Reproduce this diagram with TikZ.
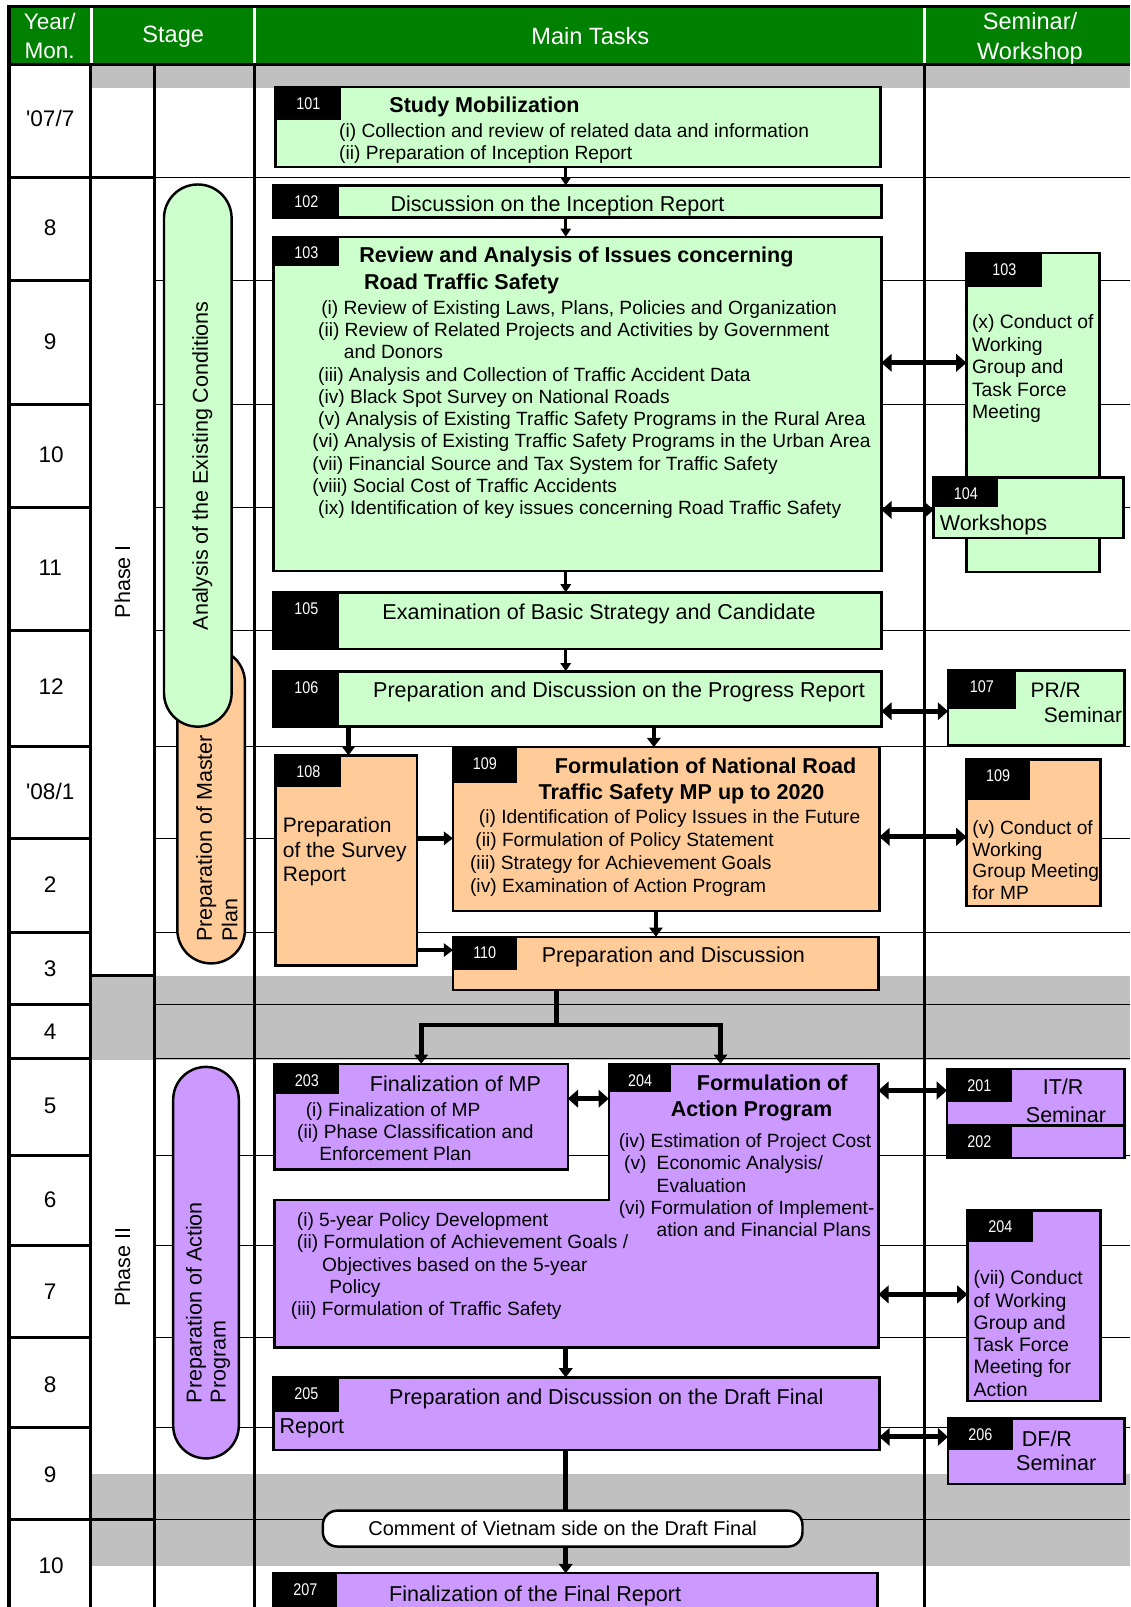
\documentclass[tikz,border=0pt]{standalone}
\usepackage{fontspec}
\setmainfont{Liberation Sans}
\newfontfamily\narrowfont[FakeStretch=0.85]{Liberation Sans}
\usetikzlibrary{arrows.meta}
\definecolor{hgreen}{HTML}{008000}
\definecolor{tgreen}{HTML}{CCFFCC}
\definecolor{torange}{HTML}{FFCC99}
\definecolor{tpurple}{HTML}{CC99FF}
\definecolor{bandgray}{HTML}{C0C0C0}
\newcommand\fsHead{\fontsize{23}{29}\selectfont}
\newcommand\fsYear{\fontsize{22}{28}\selectfont}
\newcommand\fsBig{\fontsize{21}{24}\selectfont}
\newcommand\fsTtl{\bfseries\fontsize{21}{24}\selectfont}
\newcommand\fsLab{\narrowfont\fontsize{16.5}{18}\selectfont}
\newcommand\tasklab[6]{%
  \node[labbox,minimum width=#4pt,minimum height=#5pt] (#1) at (#2,#3) {};
  \node[labnum] (#1n) at ([yshift=-16pt]#1.north) {#6};}
\begin{document}
\begin{tikzpicture}[x=1pt,y=-1pt,
  every node/.style={inner sep=0pt,outer sep=0pt},
  tbox/.style={draw,line width=2.4pt,anchor=north west},
  labbox/.style={fill=black,anchor=north west},
  labnum/.style={text=white,font=\fsLab},
  pill/.style={draw,line width=2.4pt,anchor=north west,rounded corners=#1},
  body/.style={anchor=north west,align=left},
  arrA/.style={line width=3pt,-{Triangle[length=8pt,width=10pt]}},
  arrB/.style={line width=4.5pt,-{Triangle[length=9pt,width=13pt]}},
  arrC/.style={line width=5pt,{Triangle[length=10pt,width=17pt]}-{Triangle[length=10pt,width=17pt]}}]
\path[use as bounding box] (0,0) rectangle (1103,1568);
\clip (0,0) rectangle (1103,1568);
\fill[white] (0,0) rectangle (1103,1568);
% gray bands
\fill[bandgray] (89,62) rectangle (1103,86);
\fill[bandgray] (89,952) rectangle (1103,1034);
\fill[bandgray] (89,1438) rectangle (1103,1528);
% header
\fill[hgreen] (9,8) rectangle (1103,61);
\foreach \x in {89,248,902} \draw[white,line width=3pt] (\x,8) -- (\x,61);
\draw[line width=2.5pt] (8,6.5) -- (1103,6.5);
\draw[line width=3pt] (9,62.5) -- (1103,62.5);
% grid lines
\foreach \y in {173,274,395,495,615,728,818,910,980,1033,1127,1215,1305,1393,1483} {
  \draw[line width=1pt] (151,\y) -- (1103,\y);
  \draw[line width=3pt] (9,\y) -- (88,\y);}
\foreach \y in {173,952,1483} \draw[line width=3pt] (88,\y) -- (151,\y);
\draw[line width=3.5pt] (9,5) -- (9,1568);
\draw[line width=3pt] (88,62) -- (88,1568);
\draw[line width=3pt] (151,62) -- (151,1568);
\draw[line width=3pt] (248,62) -- (248,1568);
\draw[line width=2.5pt] (902,62) -- (902,1568);
% header texts
\node[text=white,font=\fsYear,align=center,anchor=north] (hyear) at (48.5,13) {Year/\\Mon.};
\node[text=white,font=\fsHead,anchor=base] (hstage) at (169,41) {Stage};
\node[text=white,font=\fsHead,anchor=base] (htask) at (576,43) {Main Tasks};
\node[text=white,font=\fsHead,align=center,anchor=north] (hsem) at (1005,12.5) {Seminar/\\Workshop};
% year / month labels
\node[font=\fsYear,anchor=base] (yr1) at (49,123.9) {\textquotesingle07/7};
\node[font=\fsYear,anchor=base] (yr2) at (49,229.9) {8};
\node[font=\fsYear,anchor=base] (yr3) at (49,340.9) {9};
\node[font=\fsYear,anchor=base] (yr4) at (50,450.9) {10};
\node[font=\fsYear,anchor=base] (yr5) at (49,561.9) {11};
\node[font=\fsYear,anchor=base] (yr6) at (50,677.9) {12};
\node[font=\fsYear,anchor=base] (yr7) at (49,779.9) {\textquotesingle08/1};
\node[font=\fsYear,anchor=base] (yr8) at (49,870.9) {2};
\node[font=\fsYear,anchor=base] (yr9) at (49,952.9) {3};
\node[font=\fsYear,anchor=base] (yr10) at (49,1013.9) {4};
\node[font=\fsYear,anchor=base] (yr11) at (49,1086.9) {5};
\node[font=\fsYear,anchor=base] (yr12) at (49,1177.9) {6};
\node[font=\fsYear,anchor=base] (yr13) at (49,1267.9) {7};
\node[font=\fsYear,anchor=base] (yr14) at (49,1358.4) {8};
\node[font=\fsYear,anchor=base] (yr15) at (49,1446.4) {9};
\node[font=\fsYear,anchor=base] (yr16) at (50,1535.4) {10};
% phases
\node[rotate=90,font=\fsBig] (ph1) at (119.5,567.5) {Phase I};
\node[rotate=90,font=\fsBig] (ph2) at (119.5,1236.5) {Phase II};
% stage pills
\node[pill=32.9pt,fill=torange,minimum width=66pt,minimum height=307pt] (pillmp) at (173,633) {};
\node[pill=32.9pt,fill=tgreen,minimum width=66pt,minimum height=529pt] (pillex) at (160,180) {};
\node[pill=31.9pt,fill=tpurple,minimum width=64pt,minimum height=382pt] (pillap) at (169,1041) {};
\node[rotate=90,anchor=north west,font=\fsBig] (tex) at (187.5,615) {Analysis of the Existing Conditions};
\node[rotate=90,anchor=north west,align=left,font=\fontsize{21}{25}\selectfont] (tmp) at (191.5,919) {Preparation of Master\\Plan};
\node[rotate=90,anchor=north west,align=left,font=\fontsize{21}{23.5}\selectfont] (tap) at (181.5,1369) {Preparation of Action\\Program};
% 101
\node[tbox,fill=tgreen,minimum width=590pt,minimum height=78pt] (b101) at (269,85) {};
\tasklab{l101}{269}{85}{64}{32}{101}
\node[anchor=base west,font=\fsTtl] (t101) at (380,109.5) {Study Mobilization};
\node[body,font=\fontsize{18.7}{22}\selectfont] (x101) at (331,120.3) {(i) Collection and review of related data and information\\(ii) Preparation of Inception Report};
% 102
\node[tbox,fill=tgreen,minimum width=593pt,minimum height=31pt] (b102) at (267,181) {};
\tasklab{l102}{267}{181}{64}{31}{102}
\node[anchor=base,font=\fsBig] (t102) at (544,206.5) {Discussion on the Inception Report};
% 103
\node[tbox,fill=tgreen,minimum width=593pt,minimum height=326pt] (b103) at (267,231) {};
\tasklab{l103}{267}{231}{64}{29}{103}
\node[anchor=base west,font=\fsTtl] (t103a) at (350.6,256.5) {Review and Analysis of Issues concerning};
\node[anchor=base west,font=\fsTtl] (t103b) at (355.3,282.5) {Road Traffic Safety};
\node[body,font=\fontsize{18.7}{21.7}\selectfont] (x103) at (304.8,293.3) {\hspace*{8.7pt}(i) Review of Existing Laws, Plans, Policies and Organization\\
\hspace*{5.6pt}(ii) Review of Related Projects and Activities by Government\\
\hspace*{30.7pt}and Donors\\
\hspace*{5.6pt}(iii) Analysis and Collection of Traffic Accident Data\\
\hspace*{5.6pt}(iv) Black Spot Survey on National Roads\\
\hspace*{5.6pt}(v) Analysis of Existing Traffic Safety Programs in the Rural Area\\
(vi) Analysis of Existing Traffic Safety Programs in the Urban Area\\
(vii) Financial Source and Tax System for Traffic Safety\\
(viii) Social Cost of Traffic Accidents\\
\hspace*{5.6pt}(ix) Identification of key issues concerning Road Traffic Safety};
% 105
\node[tbox,fill=tgreen,minimum width=593pt,minimum height=55pt] (b105) at (267,578) {};
\tasklab{l105}{267}{578}{64}{55}{105}
\node[anchor=base,font=\fsBig] (t105) at (584.5,604.5) {Examination of Basic Strategy and Candidate};
% 106
\node[tbox,fill=tgreen,minimum width=593pt,minimum height=54pt] (b106) at (267,655) {};
\tasklab{l106}{267}{655}{64}{54}{106}
\node[anchor=base,font=\fsBig] (t106) at (604,680.5) {Preparation and Discussion on the Progress Report};
% 108
\node[tbox,fill=torange,minimum width=138pt,minimum height=205pt] (b108) at (269,737) {};
\tasklab{l108}{269}{737}{64}{31}{108}
\node[body,font=\fontsize{20.5}{24}\selectfont] (x108) at (276,797.7) {Preparation\\of the Survey\\Report};
% 109
\node[tbox,fill=torange,minimum width=416pt,minimum height=160pt] (b109) at (442,729) {};
\tasklab{l109}{442}{729}{62}{35}{109}
\node[anchor=base,font=\fsTtl] (t109a) at (688.5,755.2) {Formulation of National Road};
\node[anchor=base,font=\fsTtl] (t109b) at (665,780.2) {Traffic Safety MP up to 2020};
\node[body,font=\fontsize{18.7}{22.3}\selectfont] (x109) at (458.7,790.3) {\hspace*{8.6pt}(i) Identification of Policy Issues in the Future\\
\hspace*{5.2pt}(ii) Formulation of Policy Statement\\
(iii) Strategy for Achievement Goals\\
(iv) Examination of Action Program};
% 110
\node[tbox,fill=torange,minimum width=415pt,minimum height=52pt] (b110) at (442,914) {};
\tasklab{l110}{442}{914}{62}{32}{110}
\node[anchor=base,font=\fsBig] (t110) at (657,939.5) {Preparation and Discussion};
% 203
\node[tbox,fill=tpurple,minimum width=286pt,minimum height=103pt] (b203) at (268,1038) {};
\tasklab{l203}{268}{1038}{63}{29}{203}
\node[anchor=base west,font=\fsBig] (t203) at (361,1064.9) {Finalization of MP};
\node[body,font=\fontsize{18.7}{21.7}\selectfont] (x203) at (290,1075.8) {\hspace*{8.4pt}(i) Finalization of MP\\(ii) Phase Classification and\\\hspace*{21.5pt}Enforcement Plan};
% 204
\node[anchor=north west,minimum width=589pt,minimum height=277pt] (b204) at (268,1038) {};
\node[anchor=north west,minimum width=263pt,minimum height=133pt] (b204t) at (594,1038) {};
\filldraw[fill=tpurple,line width=2.4pt] (b204t.north west) -- (b204t.north east) -- (b204.south east) -- (b204.south west) -- (b204.west |- b204t.south) -- (b204t.south west) -- cycle;
\tasklab{l204}{594}{1038}{61}{27}{204}
\node[anchor=base west,font=\fsTtl] (t204a) at (680,1064.3) {Formulation of};
\node[anchor=base west,font=\fsTtl] (t204b) at (654.5,1089.5) {Action Program};
\node[body,font=\fontsize{18.7}{21.8}\selectfont] (x204r) at (603.8,1106) {(iv) Estimation of Project Cost\\
\hspace*{5.2pt}(v)\hspace{10pt}Economic Analysis/\\
\hspace*{37pt}Evaluation\\
(vi) Formulation of Implement-\\
\hspace*{37pt}ation and Financial Plans};
\node[body,font=\fontsize{18.7}{21.7}\selectfont] (x204l) at (283.9,1183.3) {\hspace*{5.8pt}(i) 5-year Policy Development\\
\hspace*{5.8pt}(ii) Formulation of Achievement Goals /\\
\hspace*{30.5pt}Objectives based on the 5-year\\
\hspace*{37.5pt}Policy\\
(iii) Formulation of Traffic Safety};
% 205
\node[tbox,fill=tpurple,minimum width=591pt,minimum height=71pt] (b205) at (267,1344) {};
\tasklab{l205}{267}{1344}{64}{34}{205}
\node[anchor=base west,font=\fsBig] (t205a) at (379.7,1370.8) {Preparation and Discussion on the Draft Final};
\node[anchor=base west,font=\fsBig] (t205b) at (272.8,1398.5) {Report};
% comment
\node[draw,line width=2.4pt,fill=white,rounded corners=14pt,anchor=north west,minimum width=468pt,minimum height=35pt,font=\fontsize{19.5}{22}\selectfont] (ccm) at (315,1474) {Comment of Vietnam side on the Draft Final};
% 207
\node[tbox,fill=tpurple,minimum width=589pt,minimum height=60pt] (b207) at (267,1535) {};
\tasklab{l207}{267}{1535}{62}{40}{207}
\node[anchor=base west,font=\fsBig] (t207) at (379.7,1562.5) {Finalization of the Final Report};
% seminar boxes
\node[tbox,fill=tgreen,minimum width=130pt,minimum height=311pt] (s103) at (943,247) {};
\tasklab{ls103}{943}{247}{74}{33}{103}
\node[body,font=\fontsize{18.9}{21.9}\selectfont] (xs103) at (948.4,307.2) {(x) Conduct of\\Working\\Group and\\Task Force\\Meeting};
\node[tbox,fill=tgreen,minimum width=185pt,minimum height=59pt] (s104) at (911,466) {};
\tasklab{ls104}{911}{466}{63}{29}{104}
\node[anchor=base west,font=\fsBig] (ts104) at (917,517.7) {Workshops};
\node[tbox,fill=tgreen,minimum width=172pt,minimum height=73pt] (s107) at (925,654) {};
\tasklab{ls107}{925}{654}{66}{38}{107}
\node[anchor=base west,font=\fontsize{20.5}{24}\selectfont] (ts107a) at (1005.6,680.2) {PR/R};
\node[anchor=base west,font=\fontsize{20.5}{24}\selectfont] (ts107b) at (1018.5,705.3) {Seminar};
\node[tbox,fill=torange,minimum width=131pt,minimum height=143pt] (s109) at (943,741) {};
\tasklab{ls109}{943}{741}{62}{40}{109}
\node[body,font=\fontsize{18.7}{21.4}\selectfont] (xs109) at (948.8,800.3) {(v) Conduct of\\Working\\Group Meeting\\for MP};
\node[tbox,fill=tpurple,minimum width=173pt,minimum height=55pt] (s201) at (924,1043) {};
\tasklab{ls201}{924}{1043}{63}{32}{201}
\node[anchor=base west,font=\fsBig] (ts201a) at (1017.5,1068.2) {IT/R};
\node[anchor=base west,font=\fsBig] (ts201b) at (1001,1094.9) {Seminar};
\node[tbox,fill=tpurple,minimum width=173pt,minimum height=32pt] (s202) at (924,1098) {};
\tasklab{ls202}{924}{1098}{63}{32}{202}
\node[tbox,fill=tpurple,minimum width=130pt,minimum height=186pt] (s204) at (944,1181) {};
\tasklab{ls204}{944}{1181}{64}{31}{204}
\node[body,font=\fontsize{19}{21.7}\selectfont] (xs204) at (950,1240) {(vii) Conduct\\of Working\\Group and\\Task Force\\Meeting for\\Action};
\node[tbox,fill=tpurple,minimum width=172pt,minimum height=64pt] (s206) at (925,1384) {};
\tasklab{ls206}{925}{1384}{63}{31}{206}
\node[anchor=base west,font=\fsBig] (ts206a) at (997,1411) {DF/R};
\node[anchor=base west,font=\fsBig] (ts206b) at (991.5,1435) {Seminar};
% connectors
\coordinate (ax) at (552,0);
\draw[arrA] (b101.south -| ax) -- (b102.north -| ax);
\draw[arrA] (b102.south -| ax) -- (b103.north -| ax);
\draw[arrA] (b103.south -| ax) -- (b105.north -| ax);
\draw[arrA] (b105.south -| ax) -- (b106.north -| ax);
\coordinate (a108) at (340,0);
\draw[arrB] (b106.south -| a108) -- (b108.north -| a108);
\coordinate (a109) at (638,0);
\draw[arrB] (b106.south -| a109) -- (b109.north -| a109);
\coordinate (h818) at (0,818);
\draw[arrB] (b108.east |- h818) -- (b109.west |- h818);
\coordinate (h927) at (0,927);
\draw[arrB] (b108.east |- h927) -- (b110.west |- h927);
\coordinate (a110) at (640,0);
\draw[arrB] (b109.south -| a110) -- (b110.north -| a110);
\coordinate (bj) at (543,1000);
\coordinate (bl) at (411,1000);
\coordinate (br) at (703,1000);
\draw[arrB] (b110.south -| bj) |- (bl) -- (b203.north -| bl);
\draw[arrB] (b110.south -| bj) |- (br) -- (b204t.north -| br);
\draw[arrB] (b204.south -| ax) -- (b205.north -| ax);
\draw[line width=5pt] (b205.south -| ax) -- (ccm.north -| ax);
\draw[arrB] (ccm.south -| ax) -- (b207.north -| ax);
\coordinate (h354) at (0,354);
\draw[arrC] (b103.east |- h354) -- (s103.west |- h354);
\coordinate (h497) at (0,497.5);
\draw[arrC] (b103.east |- h497) -- (s104.west |- h497);
\coordinate (h694) at (0,694);
\draw[arrC] (b106.east |- h694) -- (s107.west |- h694);
\coordinate (h816) at (0,816.5);
\draw[arrC] (b109.east |- h816) -- (s109.west |- h816);
\coordinate (h1072) at (0,1072);
\draw[arrC] (b203.east |- h1072) -- (b204t.west |- h1072);
\coordinate (h1064) at (0,1064);
\draw[arrC] (b204.east |- h1064) -- (s201.west |- h1064);
\coordinate (h1263) at (0,1263);
\draw[arrC] (b204.east |- h1263) -- (s204.west |- h1263);
\coordinate (h1402) at (0,1402);
\draw[arrC] (b205.east |- h1402) -- (s206.west |- h1402);
\end{tikzpicture}
\end{document}
